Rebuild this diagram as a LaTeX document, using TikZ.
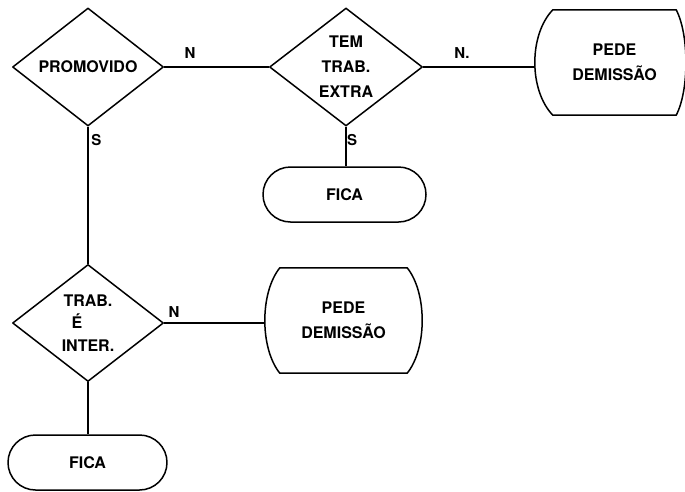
\documentclass[tikz,border=0pt]{standalone}
\usepackage{fontspec}
\setmainfont{TeX Gyre Heros}
\usetikzlibrary{shapes.geometric,shapes.misc}
\begin{document}
\begin{tikzpicture}[x=1pt,y=-1pt,
  every node/.style={font=\fontsize{16}{25}\selectfont\bfseries},
  flow/.style={line width=1.5pt, line join=round},
  decision/.style={flow, draw, diamond, aspect=1.3, inner sep=0pt, align=center},
  terminal/.style={flow, draw, rounded rectangle, inner sep=0pt, minimum height=55pt},
  display/.style={inner sep=0pt, align=center, minimum height=105pt},
  branch/.style={font=\fontsize{15}{18}\selectfont\bfseries, inner sep=0pt}]
\useasboundingbox (0,0) rectangle (685,491);

% decisions
\node[decision, minimum width=151pt, minimum height=118pt] (d1) at (88,67) {PROMOVIDO};
\node[decision, minimum width=153pt, minimum height=118pt] (d2) at (346,67) {TEM\\TRAB.\\EXTRA};
\node[decision, minimum width=151pt, minimum height=117pt,
      font=\fontsize{16}{22.5}\selectfont\bfseries] (d3) at (88,323)
      {TRAB.\\\makebox[33pt][l]{É}\\INTER.};

% outcome boxes with convex sides
\node[display, minimum width=123pt] (p1) at (614.5,62.5) {PEDE\\DEMISSÃO};
\draw[flow] (p1.north west) -- (p1.north east)
  .. controls +(13,25) and +(13,-25) .. (p1.south east)
  -- (p1.south west)
  .. controls +(-24,-25) and +(-24,25) .. (p1.north west) -- cycle;
\coordinate (p1w) at ([xshift=-18pt]p1.west);

\node[display, minimum width=127pt] (p2) at (343.5,320.5) {PEDE\\DEMISSÃO};
\draw[flow] (p2.north west) -- (p2.north east)
  .. controls +(20,25) and +(20,-25) .. (p2.south east)
  -- (p2.south west)
  .. controls +(-20,-25) and +(-20,25) .. (p2.north west) -- cycle;
\coordinate (p2w) at ([xshift=-15pt]p2.west);

% terminals
\node[terminal, minimum width=163pt] (f1) at (344.5,194.5) {FICA};
\node[terminal, minimum width=159pt] (f2) at (87.5,462.5) {FICA};

% connectors
\draw[flow] (d1.east) -- (d2.west);
\draw[flow] (d2.east) -- (p1w |- d2.east);
\draw[flow] (d2.south) -- (d2.south |- f1.north);
\draw[flow] (d1.south) -- (d3.north);
\draw[flow] (d3.east) -- (p2w |- d3.east);
\draw[flow] (d3.south) -- (d3.south |- f2.north);

% branch labels
\node[branch] (n1) at (190,53) {N};
\node[branch] (s1) at (96.5,140) {S};
\node[branch] (n2) at (462,53) {N.};
\node[branch] (s2) at (352,140) {S};
\node[branch] (n3) at (174,312) {N};
\end{tikzpicture}
\end{document}
